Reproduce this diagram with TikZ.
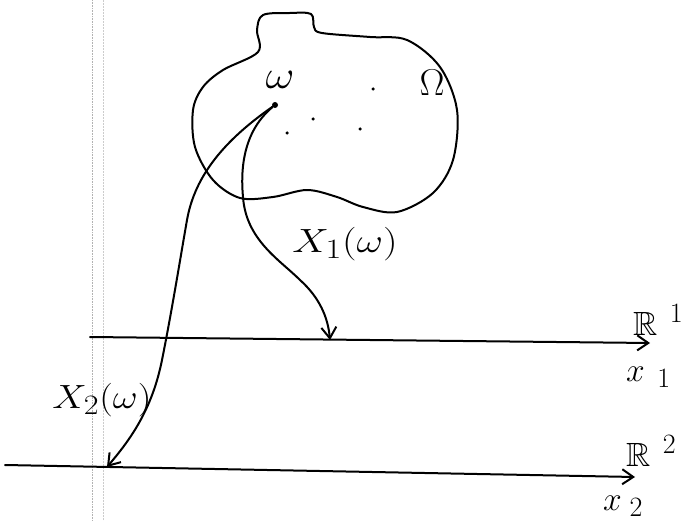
\documentclass[tikz,border=0pt]{standalone}
\usepackage{amssymb}
\usepackage{graphicx}
\usetikzlibrary{arrows.meta}
\begin{document}
\begin{tikzpicture}[x=1pt,y=-1pt,
  ink/.style={line width=2pt,line cap=round,line join=round},
  tipped/.style={ink,-{Straight Barb[length=11pt,width=15pt,line width=2pt]}},
  lbl/.style={font=\Huge,inner sep=0pt},
  speck/.style={circle,fill=black,inner sep=0pt,minimum size=3.5pt}]
\useasboundingbox (0,0) rectangle (684,521);
% faint scan artifact
\draw[gray!60,densely dotted,line width=0.6pt] (92,0) -- (92,521);
\draw[gray!40,densely dotted,line width=0.5pt] (103,0) -- (103,521);
% blob Omega
\draw[ink] plot[smooth cycle,tension=0.55] coordinates {
 (258,52) (257,30) (263,15) (290,13) (311,14) (314,27) (322,33) (370,37)
 (407,40) (440,67) (457,110) (453,160) (433,193) (397,212) (363,207)
 (337,197) (307,190) (273,197) (240,198) (213,180) (195,147) (193,110)
 (203,87) (223,70)};
\node[lbl] (om) at (280,80) {\scalebox{1.8}[1.6]{$\omega$}};
\node[lbl] (Om) at (432,83) {\scalebox{1.5}{$\Omega$}};
\node[circle,fill=black,inner sep=0pt,minimum size=6pt] (w) at (275,105) {};
\node[speck] (d1) at (313,119) {};
\node[speck] (d2) at (287,133) {};
\node[speck] (d3) at (360,129) {};
\node[speck] (d4) at (373,89) {};
% axes
\coordinate (a1s) at (90,337);
\coordinate (a1e) at (650,343);
\coordinate (a2s) at (5,465);
\coordinate (a2e) at (635,477);
\draw[tipped] (a1s) -- (a1e);
\draw[tipped] (a2s) -- (a2e);
\coordinate (h1) at (330,340);
\coordinate (h2) at (107,467);
% maps
\draw[tipped] (w) .. controls (245,130) and (240,165) .. (243,197)
  .. controls (246,240) and (280,260) .. (300,280)
  .. controls (320,298) and (328,318) .. (h1);
\draw[tipped] (w) .. controls (225,140) and (195,175) .. (187,220)
  .. controls (180,260) and (172,310) .. (162,360)
  .. controls (152,410) and (130,440) .. (h2);
% labels
\node[lbl] (X1) at (345,244) {\scalebox{1.65}[1.35]{$X_{1}(\omega)$}};
\node[lbl] (X2) at (102,400) {\scalebox{1.55}[1.35]{$X_{2}(\omega)$}};
\node[lbl,anchor=base west] (R1) at (633,335) {\scalebox{1.35}{$\mathbb{R}^{\;\,1}$}};
\node[lbl,anchor=base west] (x1) at (626,381) {\scalebox{1.35}{$x_{\;\,1}$}};
\node[lbl,anchor=base west] (R2) at (626,466) {\scalebox{1.35}{$\mathbb{R}^{\;\,2}$}};
\node[lbl,anchor=base west] (x2) at (603,510) {\scalebox{1.35}{$x_{\;2}$}};
\end{tikzpicture}
\end{document}
